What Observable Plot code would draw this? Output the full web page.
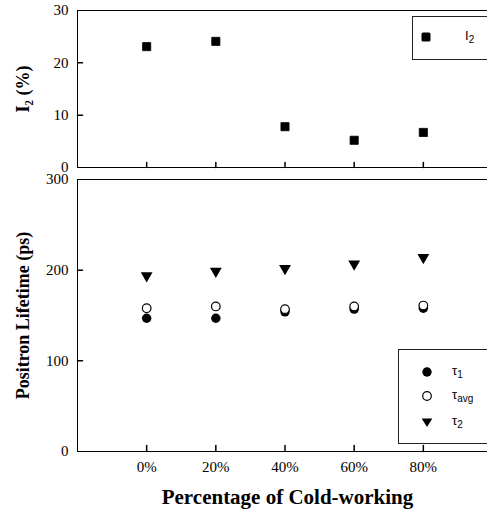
<!DOCTYPE html>
<html><head><meta charset="utf-8">
<script src="https://cdn.jsdelivr.net/npm/d3@7"></script>
<script src="https://cdn.jsdelivr.net/npm/@observablehq/plot@0.6"></script>
<style>
html,body{margin:0;padding:0;background:#fff}
body{width:487px;height:512px;position:relative;overflow:hidden}
#top,#bot{position:absolute;left:0}
#top{top:0}
#bot{top:172px}
svg text{font-family:'Liberation Serif','Times New Roman',serif}
.legend{position:absolute;box-sizing:border-box;border:1px solid #222;background:#fff;font-family:"Liberation Sans",Arial,sans-serif;font-size:13px;color:#000}
.legend .it{position:absolute;line-height:1}
.legend svg{position:absolute;overflow:visible}
.legend sub{font-size:10px;vertical-align:-3px}
</style></head><body>
<div id="top"></div><div id="bot"></div>
<div class="legend" id="leg1" style="left:412px;top:16px;width:100px;height:44px"></div>
<div class="legend" id="leg2" style="left:398px;top:349px;width:110px;height:95px"></div>
<script>
// ---- data ----
const coldWork = [0, 20, 40, 60, 80];           // % cold-working
const I2 = [23.1, 24.1, 7.8, 5.2, 6.7];          // I2 (%)
const tau1 = [147, 147, 154, 157, 158];          // ps
const tauAvg = [158, 160, 157, 160, 161];        // ps
const tau2 = [194, 199, 202, 207, 214];          // ps
const xTicks = [0, 20, 40, 60, 80];
const yTicksTop = [0, 10, 20, 30];
const yTicksBot = [0, 100, 200, 300];

const rowsI2 = coldWork.map((x, i) => ({x, v: I2[i]}));
const rowsT1 = coldWork.map((x, i) => ({x, v: tau1[i]}));
const rowsTA = coldWork.map((x, i) => ({x, v: tauAvg[i]}));
const rowsT2 = coldWork.map((x, i) => ({x, v: tau2[i]}));

const serif = "Liberation Serif, Times New Roman, serif";
const tickShape = {draw(ctx, l) { ctx.moveTo(0, 0); ctx.lineTo(0, -l); }};
const xScale = {domain: [-20, 100], range: [77, 492], axis: null};

const topPlot = Plot.plot({
  width: 487, height: 172,
  marginTop: 10, marginBottom: 5, marginLeft: 77, marginRight: 0,
  style: {fontFamily: serif, fontSize: "15px", color: "#000", background: "transparent"},
  x: xScale,
  y: {domain: [0, 30], axis: null},
  marks: [
    Plot.axisY({ticks: yTicksTop, tickSize: 0, tickPadding: 9, label: null, fontSize: 15, fontFamily: serif}),
    Plot.ruleX([-20], {stroke: "#000"}),
    Plot.ruleY([0, 30], {stroke: "#000"}),
    Plot.vector(xTicks, {x: d => d, frameAnchor: "bottom", length: 5, anchor: "start", shape: tickShape, stroke: "#000"}),
    Plot.vector(yTicksTop.slice(1, 3), {y: d => d, frameAnchor: "left", rotate: 90, length: 5, anchor: "start", shape: tickShape, stroke: "#000"}),
    Plot.dot(rowsI2, {x: "x", y: "v", symbol: "square", r: 4.6, fill: "#000", stroke: "#000", strokeWidth: 0.8, strokeLinejoin: "round"}),
    Plot.text(["I₂ (%)"], {text: d => d, frameAnchor: "left", textAnchor: "middle", dx: -54, rotate: -90, fontWeight: "bold", fontSize: 18, fontFamily: serif})
  ]
});
document.getElementById("top").append(topPlot);

const botPlot = Plot.plot({
  width: 487, height: 340,
  marginTop: 7, marginBottom: 61, marginLeft: 77, marginRight: 0,
  style: {fontFamily: serif, fontSize: "15px", color: "#000", background: "transparent"},
  x: xScale,
  y: {domain: [0, 300], axis: null},
  marks: [
    Plot.axisY({ticks: yTicksBot, tickSize: 0, tickPadding: 9, label: null, fontSize: 15, fontFamily: serif}),
    Plot.axisX({ticks: xTicks, tickSize: 0, tickPadding: 10, tickFormat: d => d + "%", label: null, fontSize: 15, fontFamily: serif}),
    Plot.ruleX([-20], {stroke: "#000"}),
    Plot.ruleY([0, 300], {stroke: "#000"}),
    Plot.vector(xTicks, {x: d => d, frameAnchor: "bottom", length: 6, anchor: "start", shape: tickShape, stroke: "#000"}),
    Plot.vector(yTicksBot.slice(1, 3), {y: d => d, frameAnchor: "left", rotate: 90, length: 5, anchor: "start", shape: tickShape, stroke: "#000"}),
    Plot.dot(rowsT1, {x: "x", y: "v", r: 4.7, fill: "#000", stroke: "none"}),
    Plot.dot(rowsTA, {x: "x", y: "v", r: 4.3, fill: "#fff", stroke: "#000", strokeWidth: 1.2}),
    Plot.dot(rowsT2, {x: "x", y: "v", symbol: "triangle", rotate: 180, r: 4.4, fill: "#000", stroke: "none"}),
    Plot.text(["Positron Lifetime (ps)"], {text: d => d, frameAnchor: "left", textAnchor: "middle", dx: -54, rotate: -90, fontWeight: "bold", fontSize: 18, fontFamily: serif}),
    Plot.text(["Percentage of Cold-working"], {text: d => d, frameAnchor: "bottom", dx: 5, dy: 52, fontWeight: "bold", fontSize: 21, fontFamily: serif})
  ]
});
document.getElementById("bot").append(botPlot);

// ---- legends ----
function marker(kind) {
  const ns = "http://www.w3.org/2000/svg";
  const s = document.createElementNS(ns, "svg");
  s.setAttribute("width", "12"); s.setAttribute("height", "12");
  let el;
  if (kind === "square") {
    el = document.createElementNS(ns, "rect");
    el.setAttribute("x", 1.5); el.setAttribute("y", 1.5); el.setAttribute("width", 9); el.setAttribute("height", 9);
    el.setAttribute("rx", 1.5); el.setAttribute("fill", "#000");
  } else if (kind === "dot" || kind === "circle") {
    el = document.createElementNS(ns, "circle");
    el.setAttribute("cx", 6); el.setAttribute("cy", 6);
    el.setAttribute("r", kind === "dot" ? 4.7 : 4.3);
    el.setAttribute("fill", kind === "dot" ? "#000" : "#fff");
    if (kind === "circle") { el.setAttribute("stroke", "#000"); el.setAttribute("stroke-width", 1.2); }
  } else {
    el = document.createElementNS(ns, "path");
    el.setAttribute("d", "M0.7,2.5 L11.3,2.5 L6,11 Z");
    el.setAttribute("fill", "#000");
  }
  s.append(el);
  return s;
}
function item(box, kind, html, mx, my, tx) {
  const m = marker(kind);
  m.style.left = (mx - 6) + "px"; m.style.top = (my - 6) + "px";
  box.append(m);
  const t = document.createElement("div");
  t.className = "it"; t.innerHTML = html;
  t.style.left = tx + "px"; t.style.top = (my - 8) + "px";
  box.append(t);
}
const leg1 = document.getElementById("leg1");
item(leg1, "square", "I<sub>2</sub>", 13, 20, 52);
const leg2 = document.getElementById("leg2");
item(leg2, "dot", "τ<sub>1</sub>", 28, 22, 53);
item(leg2, "circle", "τ<sub>avg</sub>", 28, 46, 53);
item(leg2, "tri", "τ<sub>2</sub>", 28, 72, 53);
</script>
</body></html>
